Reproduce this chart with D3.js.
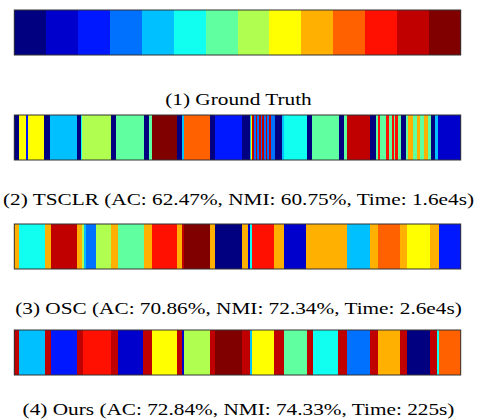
<!DOCTYPE html>
<html>
<head>
<meta charset="utf-8">
<script src="https://cdn.jsdelivr.net/npm/d3@7"></script>
<style>
  body { margin: 0; background: #fff; }
  svg { display: block; }
  .caption { font-family: "Liberation Serif", "Times New Roman", serif; font-size: 16px; fill: #000; }
</style>
</head>
<body>
<svg id="chart" width="477" height="420"></svg>
<script>
"use strict"

// 14 classes, 100 samples each
const nSamples = 1400
const classes = d3.range(1, 15)
const jetColors = ["#000080", "#0000cc", "#0018ff", "#0070ff", "#00c0ff", "#10fff0", "#60ffa0",
                   "#b0ff50", "#ffff00", "#ffb000", "#ff6000", "#ff1000", "#c00000", "#800000"]

// runs: [first sample index, predicted class]
const groundTruth = classes.map(c => [(c - 1) * 100, c])

const tsclr = [[0,1],[14,9],[36,3],[42,9],[94,1],[112,5],[198,1],[208,6],[213,8],[303,1],[318,7],
  [408,1],[422,7],[432,14],[511,1],[527,5],[532,11],[614,1],[629,3],[714,1],[738,5],[741,9],[744,4],
  [746,13],[752,4],[757,13],[762,4],[767,13],[773,4],[778,13],[783,4],[788,13],[793,4],[799,13],[804,4],
  [818,1],[839,5],[847,6],[917,1],[935,7],[1017,1],[1035,7],[1044,13],[1116,1],[1134,7],[1142,12],
  [1148,7],[1167,12],[1175,7],[1183,12],[1191,7],[1195,12],[1202,7],[1213,1],[1228,7],[1236,10],
  [1249,7],[1262,10],[1272,7],[1286,10],[1298,7],[1307,1],[1319,5],[1329,2]]

const osc = [[0,10],[15,6],[96,10],[115,13],[197,10],[212,8],[218,5],[224,4],[255,8],[303,10],
  [324,7],[407,10],[431,12],[510,10],[527,13],[532,14],[614,10],[629,1],[714,10],[734,2],[739,6],
  [745,12],[815,10],[846,2],[916,10],[1044,5],[1116,10],[1141,11],[1210,10],[1232,9],[1304,10],[1332,3]]

const ours = [[0,13],[15,5],[96,13],[115,3],[197,13],[215,12],[303,13],[324,2],[405,13],[431,9],
  [510,13],[527,2],[532,8],[614,13],[629,14],[714,13],[739,5],[744,9],[815,13],[846,7],[917,13],
  [938,6],[1015,13],[1044,4],[1116,13],[1140,10],[1210,13],[1232,1],[1304,13],[1326,6],[1332,11]]

const captions = ["(1) Ground Truth",
  "(2) TSCLR (AC: 62.47%, NMI: 60.75%, Time: 1.6e4s)",
  "(3) OSC (AC: 70.86%, NMI: 72.34%, Time: 2.6e4s)",
  "(4) Ours (AC: 72.84%, NMI: 74.33%, Time: 225s)"]

const results = [groundTruth, tsclr, osc, ours]

// layout
const barTops = [10, 115, 224, 330]
const barHeight = 45
const captionY = [105, 205, 314, 415]
const textStretch = 1.33   // the figure was rasterised wider than tall

const svg = d3.select("#chart")
const x = d3.scaleLinear().domain([0, nSamples]).range([14.3, 460.7])
const color = d3.scaleOrdinal().domain(classes).range(jetColors)

results.forEach((runs, k) => {
  let segs = runs.map((r, i) => ({
    start: r[0],
    end: i < runs.length - 1 ? runs[i + 1][0] : nSamples,
    label: r[1]
  }))

  let g = svg.append("g").attr("transform", "translate(0," + barTops[k] + ")")

  g.selectAll("rect.seg")
      .data(segs)
    .enter().append("rect")
      .attr("class", "seg")
      .attr("x", d => x(d.start))
      .attr("width", d => x(d.end) - x(d.start))
      .attr("y", 0)
      .attr("height", barHeight)
      .attr("fill", d => color(d.label))
      .attr("shape-rendering", "crispEdges")

  g.append("rect")
      .attr("x", x(0))
      .attr("y", 0)
      .attr("width", x(nSamples) - x(0))
      .attr("height", barHeight)
      .attr("fill", "none")
      .attr("stroke", "#333")
      .attr("stroke-width", 1)

  svg.append("g")
      .attr("transform", "translate(238.5," + captionY[k] + ") scale(" + textStretch + ",1)")
    .append("text")
      .attr("class", "caption")
      .attr("text-anchor", "middle")
      .text(captions[k])
})
</script>
</body>
</html>
